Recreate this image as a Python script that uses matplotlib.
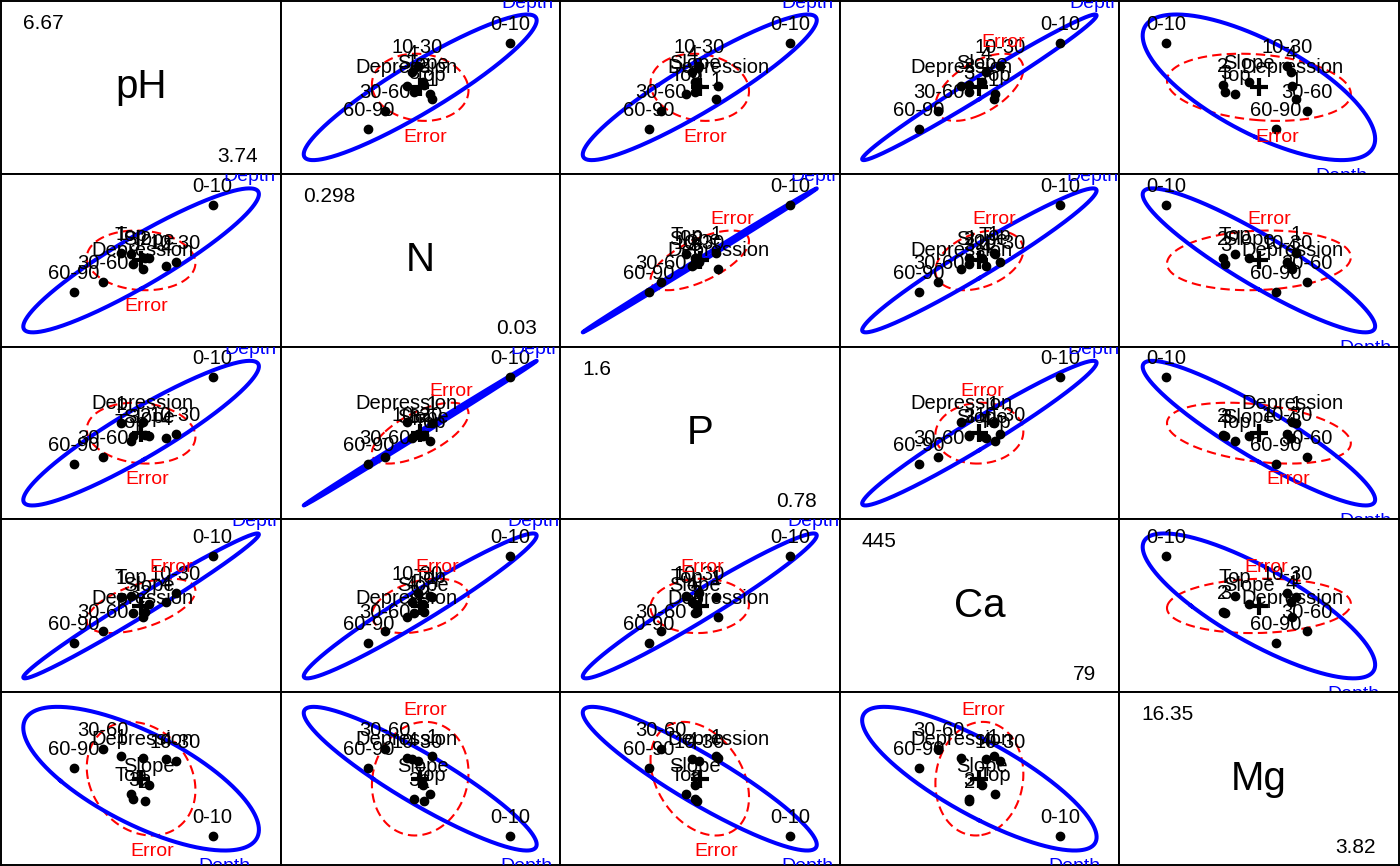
import numpy as np
import matplotlib
matplotlib.use('Agg')
import matplotlib.pyplot as plt

plt.rcParams['font.family'] = ['Liberation Sans', 'DejaVu Sans']

# response variables and the range shown on the diagonal
variables = ['pH', 'N', 'P', 'Ca', 'Mg']
var_min = [3.74, 0.03, 0.78, 79, 3.82]
var_max = [6.67, 0.298, 1.6, 445, 16.35]

# group means (columns: pH, N, P, Ca, Mg)
block_levels = ['1', '2', '3', '4']
block_means = np.array([
    [4.985, 0.176, 1.240, 281.8, 11.864],
    [5.255, 0.168, 1.182, 247.4, 8.331],
    [5.120, 0.157, 1.175, 246.6, 8.456],
    [5.486, 0.155, 1.164, 270.8, 11.626],
])
contour_levels = ['Top', 'Slope', 'Depression']
contour_means = np.array([
    [5.091, 0.174, 1.147, 284.0, 8.895],
    [5.296, 0.167, 1.175, 265.7, 9.609],
    [5.226, 0.150, 1.247, 236.4, 11.701],
])
depth_levels = ['0-10', '10-30', '30-60', '60-90']
depth_means = np.array([
    [6.017, 0.257, 1.475, 375.5, 5.574],
    [5.598, 0.161, 1.186, 291.3, 11.451],
    [4.771, 0.127, 1.067, 203.8, 12.391],
    [4.443, 0.110, 1.029, 176.4, 10.887],
])

# error ellipse: half widths and correlations
err_half = [0.615, 0.050, 0.156, 62.2, 4.45]
err_cor = np.array([
    [1.00, -0.09, -0.12, 0.55, -0.20],
    [-0.09, 1.00, 0.65, 0.35, 0.11],
    [-0.12, 0.65, 1.00, 0.05, -0.33],
    [0.55, 0.35, 0.05, 1.00, 0.08],
    [-0.20, 0.11, -0.33, 0.08, 1.00],
])
h_size = 1.06  # size of the Depth ellipse

lo = np.array(var_min, float)
hi = np.array(var_max, float)
pad = 0.04 * (hi - lo)

grand = depth_means.mean(axis=0)
dev = depth_means - grand
H = dev.T @ dev
E = np.outer(err_half, err_half) * err_cor

labels = block_levels + contour_levels + depth_levels
means = np.vstack([block_means, contour_means, depth_means])

theta = np.linspace(0, 2 * np.pi, 400)
circle = np.vstack([np.cos(theta), np.sin(theta)])


def ellipse_pts(cov, radius, cx, cy):
    vals, vecs = np.linalg.eigh(cov)
    root = vecs @ np.diag(np.sqrt(np.clip(vals, 0, None)))
    pts = radius * (root @ circle)
    return pts[0] + cx, pts[1] + cy


def label_ellipse(ax, x, y, text, color):
    r = np.corrcoef(x, y)[0, 1]
    if r > 0:
        k = np.argmax(y)
        dy = 5
    else:
        k = np.argmin(y)
        dy = -15
    ax.annotate(text, (x[k], y[k]), xytext=(0, dy), textcoords='offset points',
                ha='center', va='baseline', color=color, fontsize=14,
                clip_on=True, zorder=5)


fig, axes = plt.subplots(5, 5, figsize=(14, 8.66), dpi=100)
fig.subplots_adjust(left=0.0008, right=0.9992, bottom=0.0012, top=0.9988,
                    wspace=0, hspace=0)

n = len(variables)
for i in range(n):
    for j in range(n):
        ax = axes[i, j]
        ax.set_xticks([])
        ax.set_yticks([])
        for s in ax.spines.values():
            s.set_linewidth(1.4)
        if i == j:
            ax.set_xlim(0, 1)
            ax.set_ylim(0, 1)
            ax.text(0.5, 0.5, variables[i], ha='center', va='center', fontsize=29)
            ax.text(0.079, 0.838, '%g' % var_max[i], ha='left', va='baseline', fontsize=15)
            ax.text(0.918, 0.071, '%g' % var_min[i], ha='right', va='baseline', fontsize=15)
            continue
        ax.set_xlim(lo[j] - pad[j], hi[j] + pad[j])
        ax.set_ylim(lo[i] - pad[i], hi[i] + pad[i])
        idx = [j, i]
        cx, cy = grand[j], grand[i]

        ex, ey = ellipse_pts(E[np.ix_(idx, idx)], 1.0, cx, cy)
        ax.plot(ex, ey, color='red', lw=1.5, linestyle=(0, (4.5, 2.5)), zorder=2)
        hx, hy = ellipse_pts(H[np.ix_(idx, idx)], h_size, cx, cy)
        ax.plot(hx, hy, color='blue', lw=2.9, zorder=2)

        ax.plot(means[:, j], means[:, i], 'o', color='black', ms=6, zorder=3)
        ax.plot(cx, cy, '+', color='black', ms=13, mew=3, zorder=3)
        for lab, m in zip(labels, means):
            ax.annotate(lab, (m[j], m[i]), xytext=(0, 9.4), textcoords='offset points',
                        ha='center', va='baseline', fontsize=14.5, color='black',
                        clip_on=True, zorder=4)

        label_ellipse(ax, ex, ey, 'Error', 'red')
        label_ellipse(ax, hx, hy, 'Depth', 'blue')

fig.savefig('out.png', dpi=100)
